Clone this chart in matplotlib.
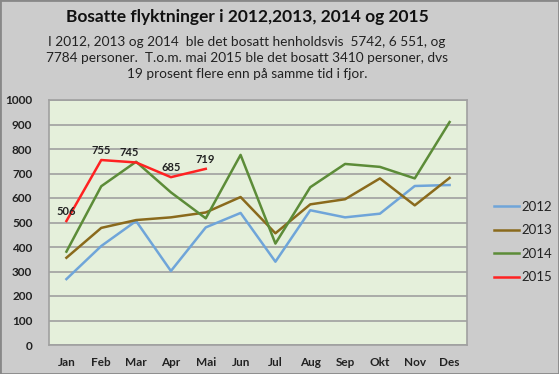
import matplotlib
matplotlib.use("Agg")
import matplotlib.pyplot as plt
from matplotlib.patches import Rectangle

months = ["Jan", "Feb", "Mar", "Apr", "Mai", "Jun", "Jul", "Aug", "Sep", "Okt", "Nov", "Des"]
v2012 = [269, 404, 506, 302, 480, 539, 340, 550, 521, 536, 649, 653]
v2013 = [356, 478, 510, 521, 541, 604, 456, 574, 595, 680, 570, 682]
v2014 = [381, 648, 748, 623, 517, 776, 414, 644, 739, 727, 680, 910]
v2015 = [506, 755, 745, 685, 719]
yticks = [0, 100, 200, 300, 400, 500, 600, 700, 800, 900, 1000]

title = "Bosatte flyktninger i 2012,2013, 2014 og 2015"
subtitle = ("I 2012, 2013 og 2014  ble det bosatt henholdsvis  5742, 6 551, og\n"
            "7784 personer.  T.o.m. mai 2015 ble det bosatt 3410 personer, dvs\n"
            "19 prosent flere enn på samme tid i fjor.")

plt.rcParams['font.family'] = ['Lato', 'DejaVu Sans']

fig = plt.figure(figsize=(5.59, 3.74), dpi=100, facecolor="#cccccc")
ax = fig.add_axes([49/559, 29/374, 418/559, 245/374])
ax.set_facecolor("#e5f0db")

x = list(range(len(months)))
ax.plot(x, v2012, color="#6fa5d9", lw=1.8, label="2012")
ax.plot(x, v2013, color="#8a6a1c", lw=1.8, label="2013")
ax.plot(x, v2014, color="#5c8c38", lw=1.8, label="2014")
ax.plot(x[:len(v2015)], v2015, color="#ff2222", lw=1.8, label="2015")

offsets = [0, 0, -5, 0, 0]
for i, v in enumerate(v2015):
    ax.annotate(str(v), (i, v), xytext=(offsets[i], 7), textcoords="offset points",
                ha="center", va="center", fontsize=8, fontweight="bold", color="#222222")

ax.set_xlim(-0.5, 11.5)
ax.set_ylim(0, 1000)
ax.set_yticks(yticks)
ax.set_xticks(x)
ax.set_xticklabels(months)
ax.tick_params(axis="both", length=0, labelsize=8.5, colors="#222222")
ax.tick_params(axis="x", pad=9)
ax.tick_params(axis="y", pad=12)
for lab in ax.get_xticklabels() + ax.get_yticklabels():
    lab.set_fontweight("bold")
ax.grid(axis="y", color="#a0a0a0", lw=1.2)
ax.set_axisbelow(True)
for s in ax.spines.values():
    s.set_color("#a0a0a0")
    s.set_linewidth(1.2)

leg = fig.legend(loc="center left", bbox_to_anchor=(494/559, 1 - 242/374), frameon=False,
                 fontsize=9.5, handlelength=1.9, handletextpad=0.15, labelspacing=0.88,
                 borderpad=0, borderaxespad=0)
for t in leg.get_texts():
    t.set_color("#222222")

fig.text(0.442, 1 - 17/374, title, ha="center", va="center", fontsize=12.5, fontweight="bold", color="#111111")
fig.text(0.442, 1 - 58/374, subtitle, ha="center", va="center", fontsize=9.8, color="#222222",
         linespacing=1.38)

fig.patches.append(Rectangle((0, 0), 1, 1, transform=fig.transFigure, fill=False,
                             edgecolor="#888888", lw=2))

fig.savefig("out.png", dpi=100, facecolor=fig.get_facecolor())
